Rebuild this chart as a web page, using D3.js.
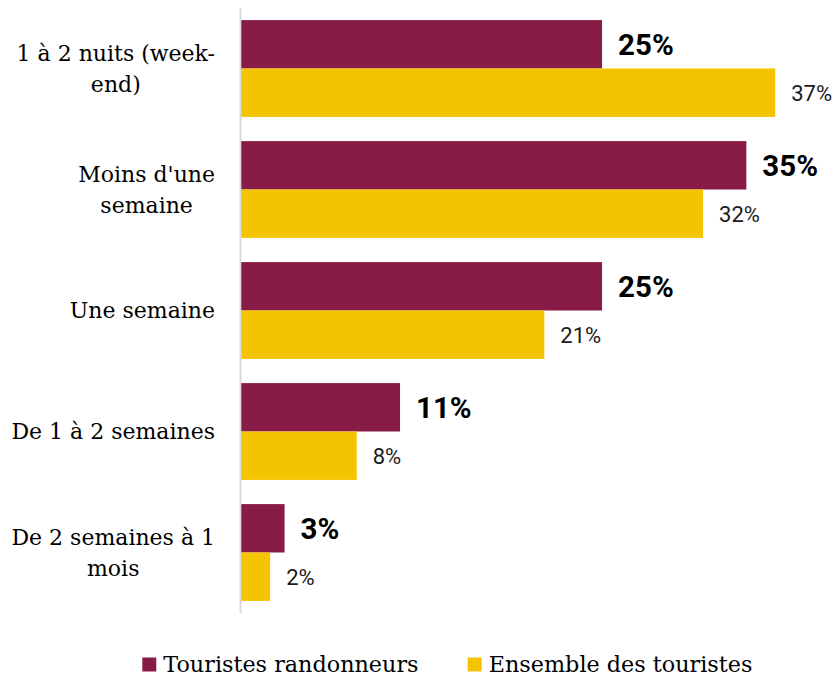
<!DOCTYPE html>
<html><head><meta charset="utf-8">
<script src="https://cdn.jsdelivr.net/npm/d3@7"></script>
<style>
html,body{margin:0;padding:0;background:#fff;}
svg{display:block;}
</style></head>
<body><svg id="chart" width="839" height="675"></svg>
<script>
const categories = ["1 à 2 nuits (week-end)", "Moins d'une semaine", "Une semaine", "De 1 à 2 semaines", "De 2 semaines à 1 mois"];
const categoryLines = [["1 à 2 nuits (week-", "end)"], ["Moins d'une", "semaine"], ["Une semaine"], ["De 1 à 2 semaines"], ["De 2 semaines à 1", "mois"]];
const seriesNames = ["Touristes randonneurs", "Ensemble des touristes"];
const randonneurs = [25, 35, 25, 11, 3];
const ensemble = [37, 32, 21, 8, 2];
const colors = ["#891B47", "#F5C400"];

const svg = d3.select("#chart");
const catFont = "'DejaVu Serif', serif";
const numFont = "Roboto, 'Liberation Sans', sans-serif";

const x = d3.scaleLinear().domain([0, 40]).range([241.3, 818.5]);
const y = d3.scaleBand().domain(categories).range([8, 613]).paddingInner(0.2).paddingOuter(0.1);
const ys = d3.scaleBand().domain(seriesNames).range([0, y.bandwidth()]);

// axis line
const axis = svg.append("g").attr("transform", "translate(240,0)")
  .call(d3.axisLeft(y).tickSize(0).tickFormat(""));
axis.select(".domain").attr("stroke", "#d9d9d9").attr("stroke-width", 2);

const series = [randonneurs, ensemble];
series.forEach((vals, si) => {
  const g = svg.append("g");
  g.selectAll("rect").data(categories).join("rect")
    .attr("x", x(0))
    .attr("y", (c) => y(c) + ys(seriesNames[si]))
    .attr("width", (c, i) => x(vals[i]) - x(0))
    .attr("height", ys.bandwidth())
    .attr("fill", colors[si]);
  g.selectAll("text").data(categories).join("text")
    .attr("x", (c, i) => x(vals[i]) + 16)
    .attr("y", (c) => y(c) + ys(seriesNames[si]) + ys.bandwidth() / 2)
    .attr("dy", "0.36em")
    .attr("font-family", numFont)
    .attr("font-weight", si === 0 ? 700 : 400)
    .attr("font-size", si === 0 ? 29.5 : 22)
    .attr("fill", si === 0 ? "#000" : "#1a1a1a")
    .text((c, i) => vals[i] + "%");
});

// category labels
const lineH = 31.5;
categories.forEach((c, i) => {
  const lines = categoryLines[i];
  const t = svg.append("text")
    .attr("font-family", catFont).attr("font-size", 22).attr("fill", "#000");
  const cy = y(c) + y.bandwidth() / 2;
  const n = lines.length;
  lines.forEach((ln, j) => {
    t.append("tspan").attr("x", 0)
      .attr("y", cy + (j - (n - 1) / 2) * lineH)
      .attr("dy", "0.36em").attr("text-anchor", "middle").text(ln);
  });
  let maxW = 0;
  t.selectAll("tspan").each(function(){ maxW = Math.max(maxW, this.getComputedTextLength()); });
  t.selectAll("tspan").attr("x", 215 - maxW / 2);
});

// legend
const legendX = [142.3, 467.7];
seriesNames.forEach((s, i) => {
  svg.append("rect").attr("x", legendX[i]).attr("y", 657.5).attr("width", 14).attr("height", 14).attr("fill", colors[i]);
  svg.append("text").attr("x", legendX[i] + 21).attr("y", 671.5)
    .attr("font-family", catFont).attr("font-size", 22.3).attr("fill", "#000").text(s);
});
</script></body></html>
